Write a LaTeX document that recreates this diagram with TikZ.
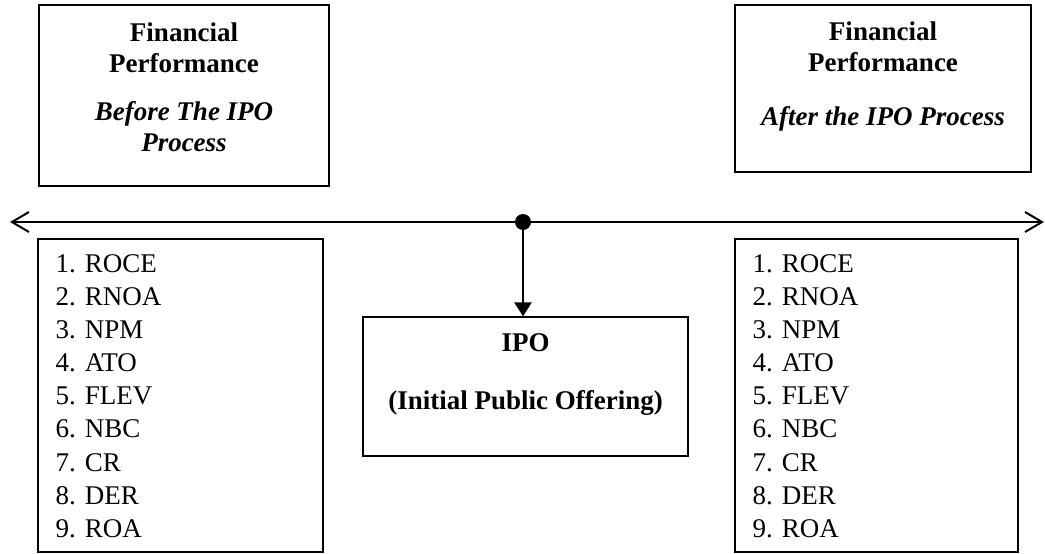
\documentclass[tikz,border=0pt]{standalone}
\usepackage{fontspec}
\setmainfont{Liberation Serif}
\usetikzlibrary{arrows.meta,positioning}

\begin{document}
\begin{tikzpicture}[x=1pt,y=1pt,
    box/.style={draw,line width=1.2pt,inner sep=0pt},
    heading/.style={align=center,inner sep=0pt,
                    font=\fontsize{27}{31}\selectfont\bfseries},
    items/.style={align=left,inner sep=0pt,
                  font=\fontsize{27}{33.1}\selectfont},
    barb/.tip={Straight Barb[length=17pt,width=20pt,line width=2pt]},
    timeline/.style={line width=2.4pt,barb-barb},
    hubline/.style={line width=2.4pt,-{Triangle[length=14pt,width=17pt]}},
    hubdot/.style={circle,fill,inner sep=0pt,minimum size=16pt}]
  \useasboundingbox (0,0) rectangle (1045,-554);

  % boxes
  \node[box,minimum width=290,minimum height=181] (before) at (184,-95.5) {};
  \node[box,minimum width=296,minimum height=167] (after)  at (883,-88.5) {};
  \node[box,minimum width=285,minimum height=313] (listL)  at (180.5,-395.5) {};
  \node[box,minimum width=283,minimum height=313] (listR)  at (876.5,-395.5) {};
  \node[box,minimum width=325,minimum height=139] (ipo)    at (525.5,-386.5) {};

  % texts
  \node[heading,below=18pt of before.north] (beforetxt)
    {Financial\\Performance\\[17pt]\textit{Before The IPO}\\\textit{Process}};
  \node[heading,below=17pt of after.north] (aftertxt)
    {Financial\\Performance\\[23pt]\textit{After the IPO Process}};
  \node[heading,below=17pt of ipo.north] (ipotxt)
    {IPO\\[27pt](Initial Public Offering)};
  \node[items,below right=16pt and 18pt of listL.north west] (itemsL)
    {1. ROCE\\2. RNOA\\3. NPM\\4. ATO\\5. FLEV\\6. NBC\\7. CR\\8. DER\\9. ROA};
  \node[items,below right=16pt and 18pt of listR.north west] (itemsR)
    {1. ROCE\\2. RNOA\\3. NPM\\4. ATO\\5. FLEV\\6. NBC\\7. CR\\8. DER\\9. ROA};

  % time line
  \coordinate (past) at (10,-222);
  \coordinate (future) at (1044,-222);
  \node[hubdot] (hub) at (523,-222) {};
  \draw[timeline] (past) -- (future);
  \draw[hubline] (hub) -- (hub |- ipo.north);
\end{tikzpicture}
\end{document}
